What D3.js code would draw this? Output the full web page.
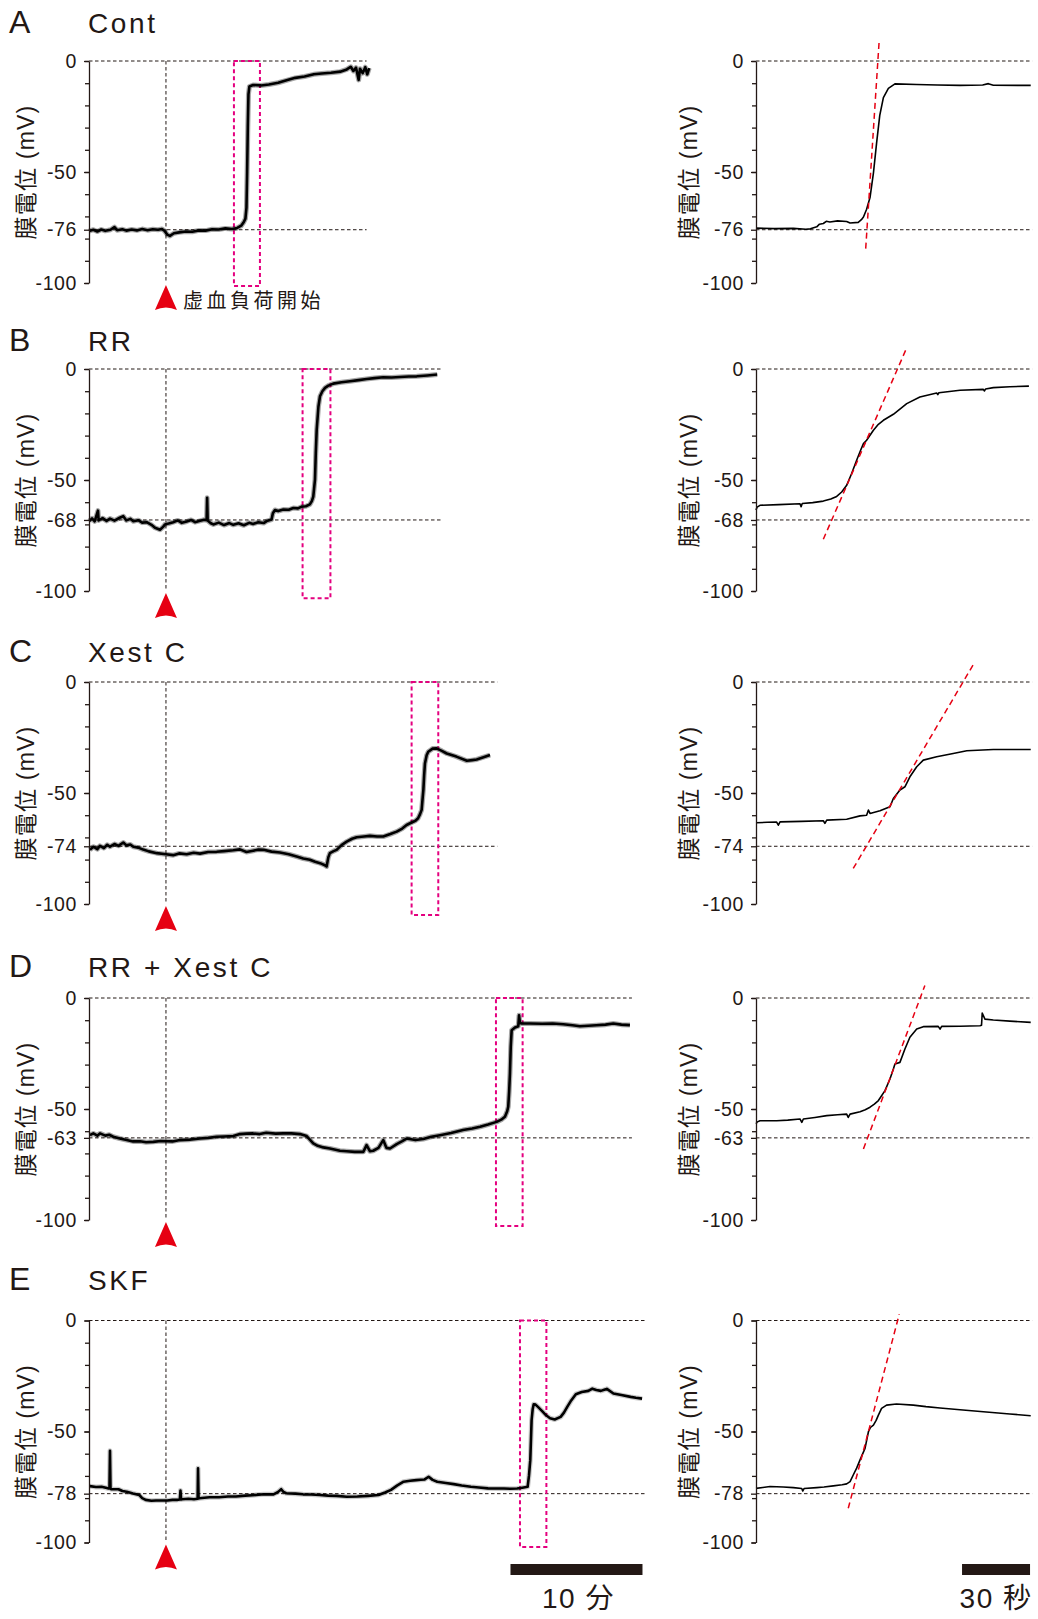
<!DOCTYPE html>
<html>
<head>
<meta charset="utf-8">
<script src="https://cdn.jsdelivr.net/npm/d3@7"></script>
<style>
  body { margin: 0; background: #fff; }
  text { font-family: "Liberation Sans", Arial, "Noto Sans CJK JP", sans-serif; fill: #231815; }
</style>
</head>
<body>
<svg id="fig" width="1038" height="1619"></svg>
<script>
// ---- データ ----
const letters = ["A", "B", "C", "D", "E"];
const names = ["Cont", "RR", "Xest C", "RR + Xest C", "SKF"];
const restMV = [-76, -68, -74, -63, -78];          // 静止膜電位ラベル
const yLabelTicks = [0, -50, -100];
const minorTicks = d3.range(-100, 1, 10);
const guideEnd = [15.2, 20.8, 25.1, 35.3, 36.4];     // 左パネル点線の終点 (分)
const onset = 0;                                     // 虚血負荷開始 (分)

// 左: [分, mV]
const traceA = [[-5.83,-76.6],[-5.5,-76],[-5.2,-76.8],[-4.9,-75.9],[-4.6,-76.5],[-4.2,-76],[-3.9,-74.8],[-3.7,-76.2],[-3.3,-75.8],[-3,-76.4],[-2.6,-75.9],[-2.2,-76.3],[-1.8,-75.7],[-1.4,-76.2],[-1,-75.8],[-0.6,-76],[-0.3,-75.7],[-0.1,-76.6],[0.1,-78.2],[0.3,-78.8],[0.6,-77.6],[1,-77.2],[1.5,-76.8],[2,-76.9],[2.5,-76.3],[3,-76.4],[3.5,-75.8],[4,-75.9],[4.5,-75.4],[5,-75.7],[5.4,-75.2],[5.7,-74.2],[5.9,-72.5],[6.02,-71],[6.1,-66],[6.15,-50],[6.2,-30],[6.25,-15],[6.32,-11.5],[6.6,-10.8],[7.2,-11],[7.8,-10.6],[8.5,-9.8],[9.2,-8.6],[9.8,-7.6],[10.5,-7],[11.2,-6],[11.8,-5.6],[12.5,-5.3],[13.2,-4.8],[13.7,-3.8],[14,-2.6],[14.2,-4.5],[14.4,-3],[14.6,-8.5],[14.7,-3.5],[14.9,-5.5],[15.1,-2.8],[15.25,-6],[15.4,-3.2]];
const traceB = [[-5.81,-68.5],[-5.6,-67.3],[-5.4,-68.6],[-5.15,-63.8],[-5.1,-68.2],[-4.8,-67.2],[-4.5,-68.4],[-4.24,-67.4],[-3.9,-68.3],[-3.5,-67],[-3.23,-66.3],[-3,-68.2],[-2.7,-67.5],[-2.47,-68.6],[-2.1,-68.1],[-1.8,-69.2],[-1.46,-69],[-1.1,-70.2],[-0.83,-71.5],[-0.45,-72.4],[-0.2,-71],[-0.08,-70],[0.2,-69.6],[0.55,-69],[0.9,-68.2],[1.2,-69.3],[1.57,-68.7],[1.9,-68],[2.2,-69],[2.58,-68.4],[2.9,-67.9],[3.08,-68.1],[3.12,-58],[3.16,-68.3],[3.4,-69.5],[3.59,-70],[4,-69.2],[4.4,-70.3],[4.8,-69.4],[5.1,-70.2],[5.5,-69.5],[5.9,-70.4],[6.3,-69.3],[6.6,-69.8],[7,-69],[7.4,-69.4],[7.63,-68.5],[8,-67.8],[8.1,-65],[8.26,-63.5],[8.5,-64],[8.89,-63.3],[9.3,-63.4],[9.65,-62.6],[10,-62.8],[10.28,-62],[10.6,-61.8],[10.9,-61],[11.05,-59.5],[11.16,-57.5],[11.22,-54],[11.29,-49.8],[11.35,-38],[11.42,-27.3],[11.55,-17],[11.67,-12.3],[11.85,-10],[12.05,-8.5],[12.3,-7.5],[12.67,-6.6],[13.3,-6],[13.94,-5.5],[14.6,-5],[15.2,-4.5],[15.8,-4.1],[16.46,-3.7],[17.1,-3.8],[17.73,-3.6],[18.4,-3.4],[19,-3.3],[19.8,-2.9],[20.55,-2.5]];
const traceC = [[-5.76,-75.6],[-5.5,-74.2],[-5.2,-75.3],[-5,-73.8],[-4.7,-74.8],[-4.45,-73.3],[-4.24,-74.2],[-3.9,-73],[-3.6,-73.8],[-3.23,-72.3],[-3,-73.6],[-2.7,-73.2],[-2.47,-74.2],[-2.1,-74.6],[-1.72,-75.5],[-1.3,-76.3],[-0.7,-77.1],[0,-77.6],[0.55,-78],[1,-77.2],[1.57,-77.6],[2.1,-76.9],[2.58,-77.3],[3.2,-76.6],[3.84,-76.5],[4.4,-76.2],[5.1,-75.8],[5.6,-75.4],[6.1,-76.6],[6.6,-76],[7,-75.5],[7.4,-75.6],[8,-76.4],[8.64,-76.8],[9.3,-77.6],[9.9,-78.6],[10.4,-79.5],[10.9,-80.1],[11.3,-81],[11.67,-81.6],[12,-82.4],[12.17,-83.1],[12.3,-79],[12.42,-77.1],[12.7,-76.2],[12.93,-75.6],[13.3,-73.5],[13.69,-71.9],[14.1,-70.6],[14.45,-69.9],[15,-69.6],[15.45,-69.3],[16,-69.6],[16.46,-69.6],[17,-68.5],[17.48,-67.4],[17.9,-66],[18.23,-64.4],[18.61,-63.3],[18.9,-62.5],[19.1,-61.4],[19.25,-59.5],[19.37,-57.6],[19.45,-52],[19.5,-48.7],[19.56,-42],[19.62,-36.7],[19.75,-33],[19.87,-31.4],[20.2,-30],[20.5,-29.9],[20.9,-31],[21.27,-32.2],[22,-33.6],[22.8,-35.5],[23.2,-35.2],[23.54,-34.9],[24,-34],[24.55,-32.9]];
const traceD = [[-5.76,-61.8],[-5.5,-61],[-5.2,-62],[-5,-61],[-4.6,-62],[-4.3,-61.6],[-3.99,-62.5],[-3.5,-63.3],[-2.98,-64],[-2.5,-64.6],[-1.97,-64.5],[-1.5,-65],[-0.96,-64.8],[-0.4,-64.4],[0.05,-64.5],[0.5,-64.6],[1.06,-64],[1.8,-63.8],[2.58,-63.3],[3.2,-63],[3.84,-62.5],[4.4,-62.4],[5.1,-62.2],[5.6,-61.3],[6.1,-61.1],[6.6,-61],[7.1,-61.3],[7.6,-60.7],[8.3,-61.1],[8.9,-61],[9.5,-61],[10.15,-61.3],[10.66,-62.2],[11.16,-65.5],[11.5,-66.6],[11.92,-67.3],[12.42,-67.8],[13.18,-68.8],[13.69,-69],[14.3,-69.3],[14.95,-69.3],[15.2,-66.3],[15.45,-69],[15.7,-68.8],[16.1,-67.5],[16.46,-64],[16.7,-67.5],[16.97,-67.8],[17.48,-65.8],[17.9,-64.5],[18.23,-63.3],[18.9,-64],[19.5,-63.5],[20.1,-62.5],[20.76,-61.8],[21.6,-60.8],[22.5,-59.5],[23.2,-58.8],[23.8,-58],[24.4,-57],[25.05,-55.8],[25.4,-54.8],[25.68,-53.5],[25.85,-51],[25.93,-49],[26,-42],[26.06,-34],[26.12,-22],[26.19,-14.5],[26.44,-13.3],[26.69,-12.7],[26.75,-7.8],[26.82,-11.3],[26.95,-11.5],[27.58,-11.5],[28.5,-11.6],[29.3,-11.5],[30.1,-11.8],[30.8,-12.3],[31.36,-12.7],[32,-12.5],[32.6,-12.3],[33.3,-12],[33.89,-11.5],[34.5,-12],[35.15,-12.2]];
const traceE = [[-5.77,-74.6],[-5.3,-75],[-4.88,-74.9],[-4.4,-75.6],[-4.28,-75.6],[-4.24,-58.7],[-4.2,-75.8],[-4.15,-76],[-3.6,-76],[-3.3,-76.8],[-2.97,-77.1],[-2.5,-77.9],[-2.02,-78.6],[-1.8,-80],[-1.54,-80.8],[-1.1,-81.2],[-0.75,-81.1],[0.11,-81.1],[0.5,-80.8],[0.84,-80.8],[1.05,-80.6],[1.1,-76.6],[1.15,-80.6],[1.23,-80.5],[1.7,-80.3],[2.12,-80.5],[2.4,-80.3],[2.43,-66.6],[2.47,-80.2],[2.53,-80.1],[3.3,-79.6],[4.02,-79.6],[4.7,-79.3],[5.3,-79.3],[6,-78.9],[6.57,-78.7],[7.4,-78.3],[8.15,-78.3],[8.5,-77.2],[8.73,-76],[8.9,-77.2],[9.11,-77.8],[9.8,-78],[10.38,-78.3],[11,-78.4],[11.65,-78.6],[12.3,-78.9],[12.93,-79],[13.7,-79.4],[14.5,-79.3],[15.3,-79],[16.1,-78.6],[16.6,-77.5],[17.05,-76.3],[17.5,-74.4],[18,-72.6],[18.5,-72.2],[18.96,-71.9],[19.3,-71.7],[19.6,-71.6],[19.9,-70.4],[20.2,-71.8],[20.55,-72.6],[21.2,-73.2],[21.8,-73.7],[22.4,-74.3],[23.1,-74.9],[23.7,-75.2],[24.4,-75.6],[25,-75.7],[25.6,-75.7],[26.1,-75.8],[26.6,-75.7],[27,-75.3],[27.4,-74.9],[27.5,-70],[27.6,-62.9],[27.65,-54],[27.7,-44.9],[27.78,-40],[27.86,-37.7],[28,-37.9],[28.18,-38.9],[28.5,-40.8],[28.8,-42.7],[29.1,-44],[29.45,-44.6],[29.9,-43.4],[30.15,-41.5],[30.4,-38.9],[30.7,-36],[31.05,-33.2],[31.5,-32.2],[32,-31.7],[32.3,-30.7],[32.6,-31.3],[32.95,-31.7],[33.2,-31.2],[33.4,-30.8],[33.9,-32.9],[34.5,-33.6],[35.2,-34.4],[35.6,-34.8],[36.07,-35.2]];
const leftTraces = [traceA, traceB, traceC, traceD, traceE];
const leftNoise = [1, 1, 1, 1, 0.6];   // 記録ノイズ帯の濃さ (目視)

// 拡大範囲 [開始分, 終了分, 下端 mV]
const zoomBoxes = [[5.15, 7.12, -101.4], [10.35, 12.46, -103.3], [18.61, 20.63, -105], [25.0, 27.02, -102.7], [26.82, 28.82, -102]];

// 右: [秒, mV]
const zoomA = [[0,-75.3],[8,-75.5],[16.5,-75.4],[22,-75.8],[24,-75.6],[26.8,-74.7],[28,-73.5],[29.7,-73.2],[31,-72.2],[32.6,-72.5],[36,-72],[40,-72.3],[41.5,-73],[45.1,-72.7],[46.5,-71.5],[47.4,-70.3],[48.8,-66.8],[50.3,-61.5],[51.8,-50.5],[53.2,-37],[54.6,-24.5],[56.2,-16.5],[58.4,-12.3],[61.3,-10.3],[70.9,-10.6],[80,-10.8],[90,-11],[100,-10.8],[102.5,-10.2],[104.7,-10.9],[121.2,-11]];
const zoomB = [[0,-63.5],[0.5,-62.2],[1.76,-61.4],[10,-61.1],[19.4,-60.7],[19.9,-62],[20.4,-60.6],[25,-60.2],[29.7,-59.5],[33,-58.6],[35.6,-57.4],[37.8,-55.4],[40,-52.4],[42.2,-47.1],[44.4,-41.1],[46.2,-36.5],[47.4,-33.6],[48.8,-32.1],[51.8,-27.6],[54,-24.9],[56.2,-23.1],[60.6,-20.4],[66.5,-15.6],[72.3,-12.6],[79.7,-10.8],[80.2,-11.5],[80.7,-10.7],[90,-9.6],[100.3,-9.2],[100.8,-9.9],[101.3,-9],[104.7,-8.4],[112,-8],[120.4,-7.7]];
const zoomC = [[0,-63.4],[5,-63.2],[9.1,-63.1],[9.85,-64.5],[10.6,-63],[20,-62.8],[29.7,-62.5],[30.4,-63.7],[31.2,-62.2],[40,-61.8],[45.9,-60.3],[48.8,-60],[49.6,-57.7],[50.3,-59.2],[54.7,-58],[59.1,-56.2],[60.6,-52.5],[63.5,-48.7],[65.7,-47.2],[67.9,-42.7],[70.9,-38.2],[73.8,-35.2],[79.7,-33.7],[87,-32.2],[93,-31],[104.7,-30.4],[121.2,-30.4]];
const zoomD = [[0,-56.6],[0.6,-55.8],[1.76,-55.3],[9.1,-55.3],[14,-55],[19.4,-54.5],[20.2,-56],[20.9,-54.5],[26,-53.8],[31.2,-53],[36,-52.6],[40,-52.3],[40.7,-53.8],[41.5,-52.3],[45.9,-51.2],[48.2,-50.3],[50.3,-49.2],[52.2,-47.8],[54,-46.2],[56.9,-41.7],[59.1,-36.5],[60.6,-32],[61.3,-29.7],[63.5,-29],[65.7,-23],[67.9,-17.7],[70.9,-14],[73.8,-12.9],[80.4,-12.8],[81.2,-14],[81.9,-12.8],[90,-12.7],[98.8,-12.5],[99.5,-12.3],[99.8,-6.8],[101,-9.5],[104.7,-9.9],[112,-10.4],[121.2,-11]];
const zoomE = [[0,-75.6],[3,-75.2],[6.2,-74.8],[12,-75],[16.5,-75.3],[20.2,-75.7],[20.6,-76.8],[21.2,-75.7],[26.8,-75.3],[30,-75],[34.1,-74.5],[38,-74],[40,-73.6],[41.5,-72.6],[42.9,-69.6],[44.4,-66.5],[45.9,-62.8],[48.1,-57.6],[49.6,-50.1],[50.5,-48.2],[51.8,-47.1],[53,-45],[54,-42.6],[55.4,-39.6],[57.6,-38.1],[62,-37.6],[69.4,-38.1],[75,-38.8],[81.2,-39.4],[90,-40.2],[100.3,-41.1],[112,-42.1],[121.2,-42.9]];
const rightTraces = [zoomA, zoomB, zoomC, zoomD, zoomE];

// 接線 [[秒, mV], [秒, mV]]
const slopes = [
  [[48.4, -84.5], [54.3, 8.5]],
  [[29.7, -76.7], [66, 8.4]],
  [[42.9, -84], [95.9, 7.9]],
  [[47.4, -68], [74.5, 5.6]],
  [[40.7, -84.6], [63.2, 2.8]]
];

const barMin = 10, barSec = 30;

// ---- レイアウト ----
const panelTop = [61, 369, 682, 998, 1320.5];
const titleDy = [-28, -18, -20, -21, -30.5];
const panelH = 222;
const ink = "#231815";

const svg = d3.select("#fig");
const xL = d3.scaleLinear().domain([-5.83, 36.2]).range([89, 643.8]);
const xR = d3.scaleLinear().domain([0, 121.5]).range([756, 1031.4]);

function drawAxis(g, y, x0, rest) {
  const minor = g.append("g").attr("transform", `translate(${x0},0)`)
    .call(d3.axisLeft(y).tickValues(minorTicks).tickSize(4).tickSizeOuter(0).tickFormat(""));
  const major = g.append("g").attr("transform", `translate(${x0},0)`)
    .call(d3.axisLeft(y).tickValues(yLabelTicks.concat([rest])).tickSize(5).tickSizeOuter(0)
      .tickPadding(7).tickFormat(d => String(d)));
  major.select(".domain").remove();
  [minor, major].forEach(a => {
    a.selectAll("path, line").attr("stroke", ink).attr("stroke-width", 1.3);
  });
  major.selectAll("text")
    .attr("fill", ink)
    .style("font-size", "19.5px")
    .style("font-family", '"Liberation Sans", Arial, sans-serif')
    .style("letter-spacing", "0.6px");
}

function yLabel(g, x, y) {
  g.append("text")
    .attr("transform", `translate(${x},${y}) rotate(-90)`)
    .attr("text-anchor", "middle")
    .attr("dominant-baseline", "central")
    .style("font-size", "23px")
    .style("letter-spacing", "1.2px")
    .text("膜電位 (mV)");
}

function guide(g, x1, x2, yy) {
  g.append("line")
    .attr("x1", x1).attr("x2", x2).attr("y1", yy).attr("y2", yy)
    .attr("stroke", "#231815").attr("stroke-width", 1).attr("stroke-dasharray", "3.5,2.5");
}

letters.forEach((L, i) => {
  const y = d3.scaleLinear().domain([-100, 0]).range([panelTop[i] + panelH, panelTop[i]]);
  const g = svg.append("g");

  // タイトル
  g.append("text").attr("x", 9).attr("y", panelTop[i] + titleDy[i])
    .style("font-size", "32px").text(L);
  g.append("text").attr("x", 88).attr("y", panelTop[i] + titleDy[i])
    .style("font-size", "28px").style("letter-spacing", "2.6px").text(names[i]);

  // ---- 左パネル ----
  guide(g, xL.range()[0], xL(guideEnd[i]), y(0));
  guide(g, xL.range()[0], xL(guideEnd[i]), y(restMV[i]));
  g.append("line")
    .attr("x1", xL(onset)).attr("x2", xL(onset)).attr("y1", y(0)).attr("y2", y(-100))
    .attr("stroke", "#231815").attr("stroke-width", 1).attr("stroke-dasharray", "3.5,2.5");

  const b = zoomBoxes[i];
  g.append("rect")
    .attr("x", xL(b[0])).attr("y", y(0))
    .attr("width", xL(b[1]) - xL(b[0])).attr("height", y(b[2]) - y(0))
    .attr("fill", "none").attr("stroke", "#e4007f").attr("stroke-width", 2)
    .attr("stroke-dasharray", "4,3");

  const lineL = d3.line().x(d => xL(d[0])).y(d => y(d[1]));
  // ノイズ帯 (太い半透明の下敷き)
  g.append("path")
    .datum(leftTraces[i])
    .attr("d", lineL)
    .attr("fill", "none").attr("stroke", "#000").attr("stroke-width", 5)
    .attr("stroke-opacity", 0.35 * leftNoise[i])
    .attr("stroke-linejoin", "round");
  g.append("path")
    .datum(leftTraces[i])
    .attr("d", lineL)
    .attr("fill", "none").attr("stroke", "#000").attr("stroke-width", 2.6)
    .attr("stroke-linejoin", "round");

  drawAxis(g, y, xL.range()[0], restMV[i]);
  yLabel(g, 26, (y(0) + y(-100)) / 2);

  // 虚血負荷開始の矢印
  const cx = xL(onset), yb = y(-100);
  g.append("path")
    .attr("d", `M${cx},${yb + 2} L${cx + 11},${yb + 27} Q${cx},${yb + 22} ${cx - 11},${yb + 27} Z`)
    .attr("fill", "#e60012");
  if (i === 0) {
    g.append("text").attr("x", 183).attr("y", yb + 25)
      .style("font-size", "20px").style("letter-spacing", "3.5px")
      .text("虚血負荷開始");
  }

  // ---- 右パネル ----
  guide(g, xR.range()[0], xR(121.8), y(0));
  guide(g, xR.range()[0], xR(121.8), y(restMV[i]));

  g.append("path")
    .datum(rightTraces[i])
    .attr("d", d3.line().x(d => xR(d[0])).y(d => y(d[1])))
    .attr("fill", "none").attr("stroke", "#000").attr("stroke-width", 1.6)
    .attr("stroke-linejoin", "round");

  const s = slopes[i];
  g.append("line")
    .attr("x1", xR(s[0][0])).attr("y1", y(s[0][1]))
    .attr("x2", xR(s[1][0])).attr("y2", y(s[1][1]))
    .attr("stroke", "#e60012").attr("stroke-width", 1.5).attr("stroke-dasharray", "6,4");

  drawAxis(g, y, xR.range()[0], restMV[i]);
  yLabel(g, 689, (y(0) + y(-100)) / 2);
});

// スケールバー
const barY = 1564, barH = 11;
const lEnd = 36.1, rEnd = 120.9;
svg.append("rect").attr("x", xL(lEnd - barMin)).attr("y", barY)
  .attr("width", xL(lEnd) - xL(lEnd - barMin)).attr("height", barH).attr("fill", ink);
svg.append("text").attr("x", (xL(lEnd - barMin) + xL(lEnd)) / 2 + 2).attr("y", 1608)
  .attr("text-anchor", "middle").style("font-size", "28px").style("letter-spacing", "1.5px")
  .text(barMin + " 分");
svg.append("rect").attr("x", xR(rEnd - barSec)).attr("y", barY)
  .attr("width", xR(rEnd) - xR(rEnd - barSec)).attr("height", barH).attr("fill", ink);
svg.append("text").attr("x", (xR(rEnd - barSec) + xR(rEnd)) / 2).attr("y", 1608)
  .attr("text-anchor", "middle").style("font-size", "28px").style("letter-spacing", "1.5px")
  .text(barSec + " 秒");
</script>
</body>
</html>
